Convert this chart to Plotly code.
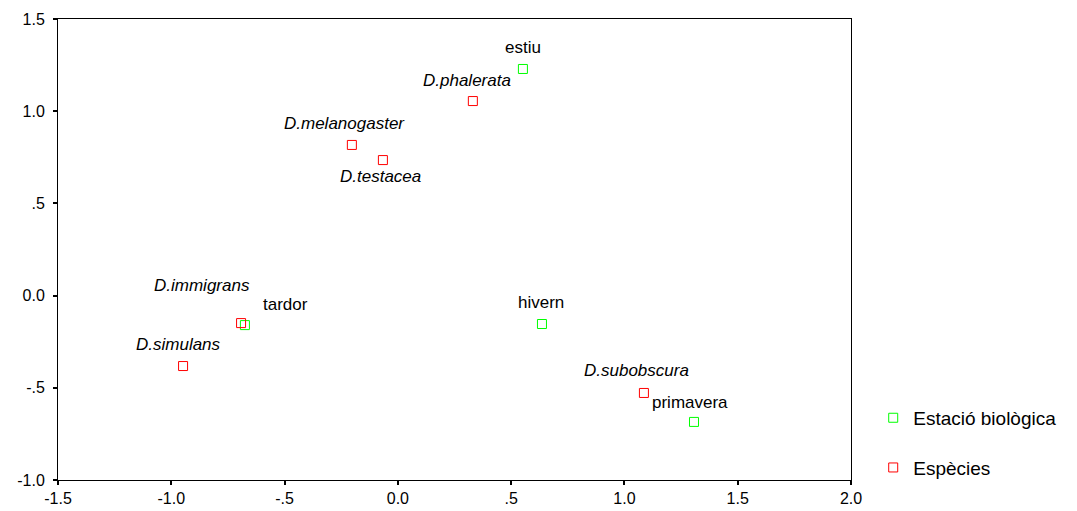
import plotly.graph_objects as go

# Data
season_names = ["estiu", "tardor", "hivern", "primavera"]
season_x = [0.552, -0.675, 0.636, 1.307]
season_y = [1.229, -0.160, -0.154, -0.685]

species_names = ["D.phalerata", "D.melanogaster", "D.testacea", "D.immigrans",
                 "D.simulans", "D.subobscura"]
species_x = [0.331, -0.203, -0.066, -0.692, -0.948, 1.086]
species_y = [1.055, 0.817, 0.735, -0.149, -0.382, -0.528]

x_ticks = [-1.5, -1.0, -0.5, 0.0, 0.5, 1.0, 1.5, 2.0]
x_tick_labels = ["-1.5", "-1.0", "-.5", "0.0", ".5", "1.0", "1.5", "2.0"]
y_ticks = [-1.0, -0.5, 0.0, 0.5, 1.0, 1.5]
y_tick_labels = ["-1.0", "-.5", "0.0", ".5", "1.0", "1.5"]

# label offsets (pixels) for readability
season_offsets = {"estiu": (0, 21), "tardor": (41, 21), "hivern": (-1, 22), "primavera": (-4, 19)}
species_offsets = {"D.phalerata": (-6, 21), "D.melanogaster": (-7, 21), "D.testacea": (-2, -16),
                   "D.immigrans": (-39, 38), "D.simulans": (-5, 22), "D.subobscura": (-7, 22)}

GREEN = "#00ff00"
RED = "#ff0000"

fig = go.Figure()
fig.add_trace(go.Scatter(
    x=season_x, y=season_y, mode="markers", name="Estació biològica",
    marker=dict(symbol="square-open", size=9, color=GREEN, line=dict(width=1, color=GREEN)),
    legendgroup="a"))
fig.add_trace(go.Scatter(
    x=species_x, y=species_y, mode="markers", name="Espècies",
    marker=dict(symbol="square-open", size=9, color=RED, line=dict(width=1, color=RED)),
    legendgroup="b"))

font_family = "Liberation Sans, Arial, sans-serif"
for n, x, y in zip(season_names, season_x, season_y):
    dx, dy = season_offsets[n]
    fig.add_annotation(x=x, y=y, text=n, showarrow=False, xshift=dx, yshift=dy,
                       font=dict(family=font_family, size=17, color="black"))
for n, x, y in zip(species_names, species_x, species_y):
    dx, dy = species_offsets[n]
    fig.add_annotation(x=x, y=y, text="<i>" + n + "</i>", showarrow=False, xshift=dx, yshift=dy,
                       font=dict(family=font_family, size=17, color="black"))

fig.update_layout(
    width=1077, height=511,
    margin=dict(l=58, r=226, t=19, b=31),
    paper_bgcolor="white", plot_bgcolor="white",
    font=dict(family=font_family, size=16, color="black"),
    showlegend=True,
    legend=dict(x=1.028, xanchor="left", y=-0.015, yanchor="bottom",
                font=dict(family=font_family, size=19, color="black"),
                tracegroupgap=22, bgcolor="rgba(0,0,0,0)"),
    xaxis=dict(range=[-1.5, 2.0], tickvals=x_ticks, ticktext=x_tick_labels,
               showgrid=False, zeroline=False, showline=True, linecolor="black", linewidth=1,
               mirror=True, ticks="outside", ticklen=4, tickwidth=2, tickcolor="black",
               tickfont=dict(size=16), automargin=False),
    yaxis=dict(range=[-1.0, 1.5], tickvals=y_ticks, ticktext=y_tick_labels,
               showgrid=False, zeroline=False, showline=True, linecolor="black", linewidth=1,
               mirror=True, ticks="outside", ticklen=4, tickwidth=2, tickcolor="black",
               tickfont=dict(size=16), automargin=False, ticklabelstandoff=5),
)

fig.write_html("out.html")
